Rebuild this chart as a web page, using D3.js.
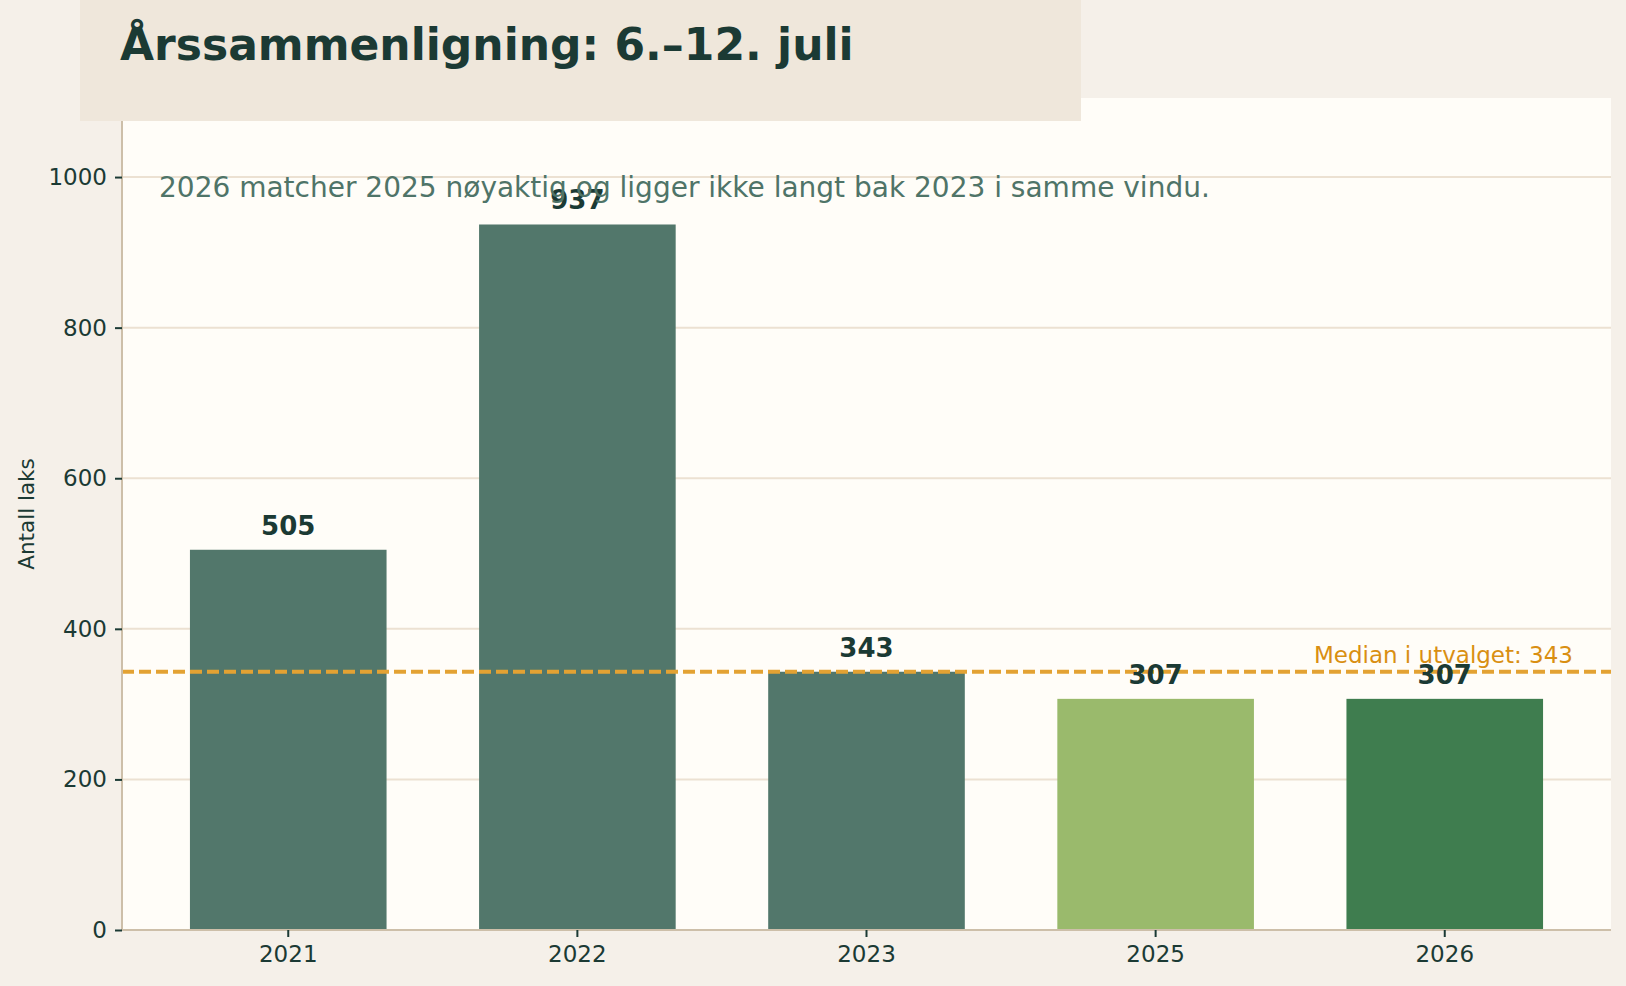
<!DOCTYPE html>
<html>
<head>
<meta charset="utf-8">
<script src="https://cdn.jsdelivr.net/npm/d3@7"></script>
<style>
  html, body { margin: 0; padding: 0; background: #f5f0e9; }
  svg { display: block; font-family: "DejaVu Sans", sans-serif; }
</style>
</head>
<body>
<svg id="chart" width="1626" height="986"></svg>
<script>
// Data
const years = ["2021", "2022", "2023", "2025", "2026"];
const counts = [505, 937, 343, 307, 307];
const barColors = ["#52776b", "#52776b", "#52776b", "#9aba6c", "#3f7d4f"];
const yTicks = [0, 200, 400, 600, 800, 1000];
const median = 343;

const titleText = "Årssammenligning: 6.–12. juli";
const subtitleText = "2026 matcher 2025 nøyaktig og ligger ikke langt bak 2023 i samme vindu.";
const yLabel = "Antall laks";
const medianLabel = "Median i utvalget: " + median;

// Layout
let width = 1626,
  height = 986,
  plot = { left: 122, right: 1611, top: 98, bottom: 930 },
  textDark = "#1b3a34",
  gridColor = "#ece1d2",
  spineColor = "#cdbfa9",
  medianColor = "#e3a233";

const svg = d3.select("#chart");

svg.append("rect").attr("width", width).attr("height", height).attr("fill", "#f5f0e9");

// plot background
svg
  .append("rect")
  .attr("x", plot.left)
  .attr("y", plot.top)
  .attr("width", plot.right - plot.left)
  .attr("height", plot.bottom - plot.top)
  .attr("fill", "#fffdf8");

// scales
const x = d3
  .scaleBand()
  .domain(years)
  .range([plot.left, plot.right])
  .paddingInner(0.32)
  .paddingOuter(0.235);

const y = d3.scaleLinear().domain([0, 1105]).range([plot.bottom, plot.top]);

// grid lines
svg
  .append("g")
  .selectAll("line")
  .data(yTicks.filter(d => d > 0))
  .join("line")
  .attr("x1", plot.left)
  .attr("x2", plot.right)
  .attr("y1", d => y(d))
  .attr("y2", d => y(d))
  .attr("stroke", gridColor)
  .attr("stroke-width", 2);

// bars
svg
  .append("g")
  .selectAll("rect")
  .data(years)
  .join("rect")
  .attr("x", d => x(d))
  .attr("y", (d, i) => y(counts[i]))
  .attr("width", x.bandwidth())
  .attr("height", (d, i) => y(0) - y(counts[i]))
  .attr("fill", (d, i) => barColors[i]);

// median line
svg
  .append("line")
  .attr("x1", plot.left)
  .attr("x2", plot.right)
  .attr("y1", y(median))
  .attr("y2", y(median))
  .attr("stroke", medianColor)
  .attr("stroke-width", 4)
  .attr("stroke-dasharray", "12,5");

svg
  .append("text")
  .attr("x", 1573)
  .attr("y", y(median) - 9)
  .attr("text-anchor", "end")
  .attr("font-size", 23)
  .attr("fill", "#d98f12")
  .text(medianLabel);

// value labels
svg
  .append("g")
  .selectAll("text")
  .data(years)
  .join("text")
  .attr("x", d => x(d) + x.bandwidth() / 2)
  .attr("y", (d, i) => y(counts[i]) - 15)
  .attr("text-anchor", "middle")
  .attr("font-size", 26)
  .attr("font-weight", "bold")
  .attr("fill", textDark)
  .text((d, i) => counts[i]);

// axes
const yAxis = svg
  .append("g")
  .attr("transform", "translate(" + plot.left + ",0)")
  .call(d3.axisLeft(y).tickValues(yTicks).tickFormat(d3.format("d")).tickSize(7).tickPadding(8));

const xAxis = svg
  .append("g")
  .attr("transform", "translate(0," + plot.bottom + ")")
  .call(d3.axisBottom(x).tickSize(7).tickPadding(9));

[yAxis, xAxis].forEach(ax => {
  ax.select(".domain").attr("stroke", spineColor).attr("stroke-width", 2);
  ax.selectAll(".tick line").attr("stroke", textDark).attr("stroke-width", 2);
  ax.selectAll(".tick text")
    .attr("fill", textDark)
    .attr("font-size", 23)
    .attr("font-family", "DejaVu Sans");
});
yAxis.select(".domain").attr("d", "M0," + plot.top + "V" + plot.bottom);
xAxis.select(".domain").attr("d", "M" + plot.left + ",0H" + plot.right);

// y label
svg
  .append("text")
  .attr("transform", "translate(34," + (plot.top + plot.bottom) / 2 + ") rotate(-90)")
  .attr("text-anchor", "middle")
  .attr("font-size", 21.5)
  .attr("fill", textDark)
  .text(yLabel);

// subtitle
svg
  .append("text")
  .attr("x", 159)
  .attr("y", 197)
  .attr("font-size", 28)
  .attr("fill", "#4f7468")
  .text(subtitleText);

// title box
svg
  .append("rect")
  .attr("x", 80)
  .attr("y", 0)
  .attr("width", 1001)
  .attr("height", 121)
  .attr("fill", "#efe7db");

svg
  .append("text")
  .attr("x", 120)
  .attr("y", 60)
  .attr("font-size", 44)
  .attr("font-weight", "bold")
  .attr("fill", textDark)
  .text(titleText);
</script>
</body>
</html>
